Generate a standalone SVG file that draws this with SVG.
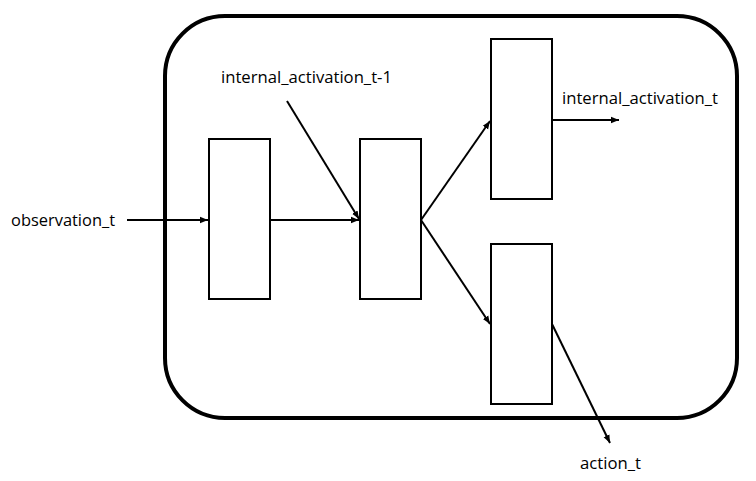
<svg xmlns="http://www.w3.org/2000/svg" width="756" height="481" viewBox="0 0 756 481">
<style>
.box{fill:#fff;stroke:#000;stroke-width:2}
.edge{fill:none;stroke:#000;stroke-width:2;marker-end:url(#ah)}
.lbl{font-family:"Open Sans","Noto Sans","Liberation Sans",sans-serif;font-size:16px;fill:#000}
</style>
<defs>
<marker id="ah" viewBox="0 0 10 10" refX="10" refY="5" markerWidth="4" markerHeight="4" orient="auto" markerUnits="strokeWidth">
<path d="M0,1 L10,5 L0,9 z" fill="#000"/>
</marker>
</defs>
<rect id="container" x="165" y="16" width="572" height="402" rx="60" ry="60" fill="#fff" stroke="#000" stroke-width="4"/>
<g id="box1"><rect class="box" x="209" y="139" width="61" height="160"/></g>
<g id="box2"><rect class="box" x="360" y="139" width="61" height="160"/></g>
<g id="box3"><rect class="box" x="491" y="39" width="61" height="160"/></g>
<g id="box4"><rect class="box" x="491" y="244" width="61" height="160"/></g>
<g id="connectors">
<line class="edge" x1="127" y1="220" x2="208" y2="220"/>
<line class="edge" x1="270" y1="220" x2="359" y2="220"/>
<line class="edge" x1="287" y1="101" x2="359" y2="219"/>
<line class="edge" x1="421" y1="220" x2="490" y2="121"/>
<line class="edge" x1="421" y1="220" x2="490" y2="324"/>
<line class="edge" x1="552" y1="120" x2="619" y2="120"/>
<line class="edge" x1="552" y1="324" x2="610" y2="443"/>
</g>
<g id="labels">
<text class="lbl" x="11" y="226" textLength="104" lengthAdjust="spacingAndGlyphs">observation_t</text>
<text class="lbl" x="221" y="83" textLength="171" lengthAdjust="spacingAndGlyphs">internal_activation_t-1</text>
<text class="lbl" x="562" y="104" textLength="156" lengthAdjust="spacingAndGlyphs">internal_activation_t</text>
<text class="lbl" x="580" y="469" textLength="61" lengthAdjust="spacingAndGlyphs">action_t</text>
</g>
</svg>
